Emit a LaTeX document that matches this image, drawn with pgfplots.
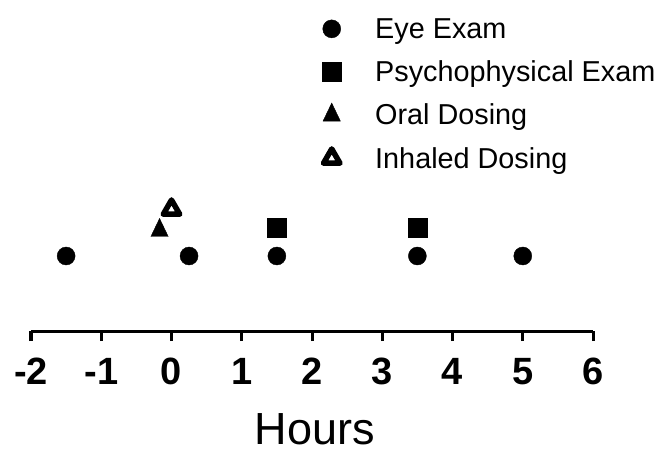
\documentclass[border=0pt]{standalone}
\usepackage{pgfplots}
\pgfplotsset{compat=1.18}
\usepackage{fontspec}
\setmainfont{Liberation Sans}
\begin{document}
\begin{tikzpicture}
\useasboundingbox (-31pt,-118pt) rectangle (637pt,331pt);
\begin{axis}[
  at={(0pt,0pt)}, anchor=south west,
  scale only axis, width=562pt, height=331pt,
  xmin=-2, xmax=6, ymin=0, ymax=4.4133,
  axis x line*=bottom, axis y line=none,
  axis line style={line width=3pt},
  xtick={-2,-1,0,1,2,3,4,5,6},
  xticklabels={-2,-1,0,1,2,3,4,5,6},
  major tick length=10pt, tick align=outside,
  tick style={line width=3pt, black},
  xticklabel style={font=\fontsize{38}{40}\selectfont\bfseries, inner sep=0pt, yshift=-17pt},
  xlabel={Hours},
  xlabel style={font=\fontsize{45}{54}\selectfont, inner sep=0pt,
    at={(axis description cs:0.5,0)}, anchor=base, yshift=-113.5pt, xshift=3pt},
  clip=false,
  legend style={draw=none, fill=none, at={(axis description cs:0.5125,0.9577)}, anchor=north west,
    font=\fontsize{28.8}{34}\selectfont, row sep=17pt, column sep=32pt},
  legend cell align=left,
]
\addplot[only marks, mark=*, mark size=9pt, black] coordinates {(-1.5,1) (0.25,1) (1.5,1) (3.5,1) (5,1)};
\addlegendentry{Eye Exam}
\addplot[only marks, mark=square*, mark size=9.5pt, black] coordinates {(1.5,1.38) (3.5,1.38)};
\addlegendentry{Psychophysical Exam}
\addplot[only marks, mark=triangle*, mark size=10pt, black, mark options={yscale=1.2}] coordinates {(-0.17,1.34)};
\addlegendentry{Oral Dosing}
\addplot[only marks, mark=triangle*, mark size=9.5pt, black, line width=5.5pt, line join=round,
  mark options={fill=white, draw=black, line width=5.5pt, line join=round}] coordinates {(0,1.62)};
\addlegendentry{Inhaled Dosing}
\end{axis}
\end{tikzpicture}
\end{document}
